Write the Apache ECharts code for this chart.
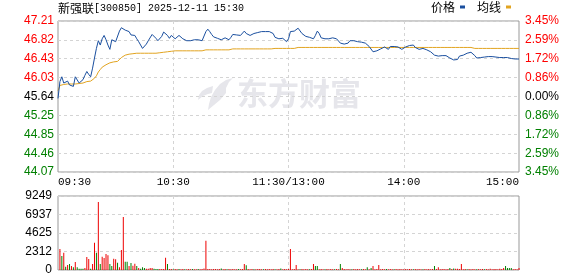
<!DOCTYPE html>
<html><head><meta charset="utf-8">
<script src="https://cdn.jsdelivr.net/npm/echarts@6/dist/echarts.min.js"></script>
<style>html,body{margin:0;padding:0;background:#fff}#c{width:578px;height:276px}</style>
</head><body><div id="c"></div>
<script>
const stockName = '新强联';
const stockInfo = '[300850] 2025-12-11 15:30';
const prevClose = 45.64;
const priceTicks = [44.07, 44.46, 44.85, 45.25, 45.64, 46.03, 46.43, 46.82, 47.21];
const pctLabels = ['3.45%','2.59%','1.72%','0.86%','0.00%','0.86%','1.72%','2.59%','3.45%'];
const volTicks = [0, 2312, 4625, 6937, 9249];
const timeLabels = ['09:30','10:30','11:30/13:00','14:00','15:00'];

const price = [
45.60,45.95,46.05,45.92,45.95,45.96,45.88,45.88,45.85,46.05,
46.02,45.92,45.92,45.99,46.08,46.16,46.10,46.05,46.23,46.44,
46.64,46.80,46.71,46.84,46.91,46.82,46.71,46.62,46.82,46.84,
46.78,46.82,47.00,47.07,47.11,47.02,47.04,46.99,46.92,46.95,
46.91,46.84,46.78,46.71,46.64,46.68,46.73,46.80,46.84,46.93,
46.89,46.85,46.80,46.82,46.89,46.98,46.95,46.91,46.85,46.91,
46.90,46.84,46.86,46.91,46.88,46.84,46.82,46.80,46.80,46.80,
46.80,46.82,46.81,46.82,46.84,46.80,46.84,46.99,47.04,46.99,
46.93,46.88,46.85,46.85,46.84,46.82,46.82,46.86,46.86,46.82,
46.87,46.93,46.97,46.92,46.91,46.91,46.94,47.00,46.95,46.92,
46.91,46.95,46.95,46.97,46.97,46.95,46.99,46.96,46.99,46.95,
46.99,47.00,46.95,46.87,46.84,46.84,46.82,46.85,46.81,46.78,
46.84,46.99,47.01,47.00,47.02,47.06,47.02,46.95,46.92,46.89,
46.89,46.87,46.88,46.84,46.91,47.00,46.95,46.86,46.85,46.84,
46.83,46.84,46.84,46.86,46.85,46.84,46.84,46.75,46.73,46.73,
46.73,46.75,46.80,46.81,46.80,46.80,46.78,46.78,46.77,46.75,
46.75,46.71,46.68,46.64,46.57,46.57,46.59,46.60,46.63,46.64,
46.67,46.64,46.62,46.68,46.69,46.68,46.66,46.67,46.66,46.62,
46.62,46.67,46.69,46.70,46.68,46.71,46.66,46.64,46.62,46.63,
46.64,46.63,46.61,46.59,46.57,46.56,46.50,46.52,46.48,46.49,
46.49,46.49,46.49,46.48,46.44,46.42,46.40,46.40,46.41,46.48,
46.45,46.50,46.52,46.54,46.55,46.56,46.55,46.49,46.44,46.45,
46.45,46.45,46.46,46.46,46.47,46.47,46.47,46.47,46.46,46.45,
46.45,46.45,46.45,46.45,46.45,46.44,46.43,46.42,46.42,46.42,46.42
];

const avgPrice = [
45.76,45.87,45.88,45.89,45.90,45.90,45.90,45.90,45.90,45.90,
45.90,45.91,45.92,45.92,45.93,45.95,45.96,45.96,45.97,46.02,
46.07,46.15,46.20,46.25,46.29,46.30,46.32,46.34,46.35,46.36,
46.36,46.37,46.40,46.45,46.49,46.50,46.51,46.52,46.52,46.53,
46.54,46.54,46.54,46.54,46.54,46.54,46.54,46.54,46.54,46.54,
46.54,46.54,46.55,46.55,46.56,46.56,46.57,46.57,46.57,46.58,
46.59,46.59,46.59,46.59,46.59,46.59,46.59,46.59,46.59,46.59,
46.59,46.59,46.59,46.59,46.59,46.59,46.59,46.61,46.61,46.61,
46.61,46.61,46.61,46.61,46.61,46.61,46.61,46.61,46.61,46.61,
46.61,46.63,46.63,46.63,46.63,46.63,46.63,46.63,46.63,46.63,
46.63,46.63,46.63,46.63,46.63,46.63,46.63,46.63,46.63,46.63,
46.63,46.63,46.63,46.64,46.64,46.64,46.64,46.64,46.64,46.64,
46.64,46.64,46.64,46.64,46.64,46.66,46.66,46.66,46.66,46.66,
46.66,46.66,46.66,46.66,46.66,46.66,46.66,46.66,46.66,46.66,
46.66,46.66,46.66,46.66,46.66,46.66,46.66,46.66,46.66,46.66,
46.66,46.66,46.66,46.66,46.66,46.66,46.66,46.66,46.66,46.66,
46.66,46.66,46.66,46.66,46.66,46.66,46.66,46.66,46.66,46.66,
46.66,46.66,46.66,46.66,46.66,46.66,46.66,46.66,46.66,46.66,
46.66,46.66,46.66,46.66,46.66,46.66,46.66,46.66,46.66,46.66,
46.66,46.66,46.66,46.66,46.66,46.66,46.66,46.66,46.66,46.66,
46.66,46.66,46.66,46.66,46.66,46.66,46.66,46.66,46.66,46.66,
46.66,46.66,46.66,46.66,46.66,46.66,46.66,46.64,46.64,46.64,
46.64,46.64,46.64,46.64,46.64,46.64,46.64,46.64,46.64,46.64,
46.64,46.64,46.64,46.64,46.64,46.64,46.64,46.64,46.64,46.64,46.64
];

const volume = [
0,2620,1750,2170,420,620,750,500,330,1000,
330,170,170,170,250,1620,1370,170,750,3420,
2170,8500,750,1670,1500,2000,1830,750,500,1420,
1330,920,330,2500,6620,1040,1040,500,870,540,
790,500,250,170,330,250,170,170,250,250,
170,130,130,130,130,130,1540,750,120,110,
100,120,90,110,100,130,100,90,110,100,
120,100,90,110,100,120,200,3670,120,110,
100,130,110,100,120,200,100,110,90,120,
100,110,100,90,120,100,110,750,580,120,
100,110,90,100,120,110,100,90,110,100,
120,100,110,90,100,120,200,100,110,100,
120,2620,100,110,620,100,90,110,100,120,
100,90,110,750,500,500,100,110,100,90,
120,100,110,100,90,110,100,750,250,110,
100,120,90,100,110,100,120,100,90,110,
100,330,100,250,500,100,120,620,100,110,
90,120,100,110,100,90,120,100,110,100,
90,110,100,120,100,90,110,100,120,100,
90,110,100,120,100,110,500,120,330,100,
110,120,100,110,250,110,200,150,150,120,
750,100,110,90,120,100,110,100,90,120,
100,110,100,120,100,150,100,110,120,100,
150,120,250,500,250,250,250,100,110,90,250
];

const downMinutes = [2,4,6,8,10,11,12,13,17,20,22,27,28,31,35,36,38,41,43,44,45,50,51,52,57,60,63,66,70,73,85,88,94,98,102,107,113,116,126,131,134,135,139,144,147,153,158,161,163,171,175,185,190,196,204,206,213,218,222,233,234,235,236];

// minute categories 09:30-11:30, 13:01-15:00
const times = [];
for (let t = 9*60+30; t <= 11*60+30; t++) times.push(String(Math.floor(t/60)).padStart(2,'0') + ':' + String(t%60).padStart(2,'0'));
for (let t = 13*60+1; t <= 15*60; t++) times.push(String(Math.floor(t/60)).padStart(2,'0') + ':' + String(t%60).padStart(2,'0'));

const RED = '#ff0000', GREEN = '#008000', BLUE = '#1a4f9f', GOLD = '#e2a420';
function nearestIdx(arr, v) { let b = 0; for (let i = 1; i < arr.length; i++) if (Math.abs(arr[i]-v) < Math.abs(arr[b]-v)) b = i; return b; }
function tickColor(v) { return v > prevClose + 0.001 ? RED : (v < prevClose - 0.001 ? GREEN : '#000'); }

const downSet = new Set(downMinutes);
const volData = volume.map((v, i) => ({ value: v, itemStyle: { color: downSet.has(i) ? GREEN : '#ee0000' } }));

const dash = { color: '#d4d4d4', type: [3, 3], width: 1 };
const wm = '#e6e6eb';

const chart = echarts.init(document.getElementById('c'), null, { renderer: 'canvas' });
chart.setOption({
  animation: false,
  backgroundColor: '#fff',
  title: { text: '{c|' + stockName + '}{a|' + stockInfo + '}', left: 58, top: 2, padding: 0,
    textStyle: { fontWeight: 'normal', color: '#000',
      rich: { c: { fontSize: 12, fontFamily: "'Noto Sans CJK SC'", color: '#000' },
              a: { fontSize: 10, fontFamily: "'Liberation Mono',monospace", color: '#000' } } } },
  legend: { data: ['价格', '均线'], right: 67, top: 1, padding: 0, itemWidth: 5, itemHeight: 3, icon: 'rect', align: 'right', itemGap: 12,
    textStyle: { fontSize: 12, color: '#000', fontFamily: "'Noto Sans CJK SC'" } },
  graphic: [
    { type: 'polygon', z: -10, shape: { points: [[233,78],[226,80],[220,84],[215,90],[211,97],[209,104],[208,110],[214,105],[220,100],[226,93],[226,88],[229,82]] }, style: { fill: wm } },
    { type: 'polygon', z: -10, shape: { points: [[213,86],[207,88],[202,91],[199,95],[198,100],[203,96],[208,94],[212,93]] }, style: { fill: wm } },
    { type: 'text', z: -10, left: 237, top: 78, style: { text: '东方财富', font: 'bold 31px "Noto Sans CJK SC"', fill: wm } }
  ],
  grid: [
    { left: 58, top: 21, width: 461, height: 151, show: true, borderColor: '#999', borderWidth: 1, backgroundColor: 'transparent' },
    { left: 58, top: 196, width: 461, height: 74, show: true, borderColor: '#999', borderWidth: 1, backgroundColor: 'transparent' }
  ],
  xAxis: [
    { gridIndex: 0, type: 'category', data: times, boundaryGap: false,
      axisLine: { show: false }, axisTick: { show: false },
      axisLabel: { interval: (i) => i % 60 === 0, formatter: (v) => timeLabels[times.indexOf(v) / 60],
        margin: 5, fontSize: 11, color: '#000', fontFamily: "'Liberation Mono',monospace", alignMinLabel: 'left', alignMaxLabel: 'right' },
      splitLine: { show: true, interval: (i) => i % 60 === 0 && i > 0 && i < 240, lineStyle: dash } },
    { gridIndex: 1, type: 'category', data: times, boundaryGap: false,
      axisLine: { show: false }, axisTick: { show: false }, axisLabel: { show: false },
      splitLine: { show: true, interval: (i) => i % 60 === 0 && i > 0 && i < 240, lineStyle: dash } }
  ],
  yAxis: [
    { gridIndex: 0, type: 'value', position: 'left', min: 44.07, max: 47.21,
      axisLine: { show: false }, axisTick: { show: false, customValues: priceTicks },
      axisLabel: { customValues: priceTicks, formatter: (v) => priceTicks[nearestIdx(priceTicks, v)].toFixed(2),
        color: (v) => tickColor(priceTicks[nearestIdx(priceTicks, v)]), margin: 4, fontSize: 12, fontFamily: "'Liberation Sans',Arial" },
      splitLine: { show: true, lineStyle: dash } },
    { gridIndex: 0, type: 'value', position: 'right', min: 44.07, max: 47.21,
      axisLine: { show: false }, axisTick: { show: false, customValues: priceTicks },
      axisLabel: { customValues: priceTicks, formatter: (v) => pctLabels[nearestIdx(priceTicks, v)],
        color: (v) => tickColor(priceTicks[nearestIdx(priceTicks, v)]), margin: 6, fontSize: 12, fontFamily: "'Liberation Sans',Arial" },
      splitLine: { show: false } },
    { gridIndex: 1, type: 'value', position: 'left', min: 0, max: 9249,
      axisLine: { show: false }, axisTick: { show: false, customValues: volTicks },
      axisLabel: { customValues: volTicks, formatter: (v) => String(volTicks[nearestIdx(volTicks, v)]),
        color: '#000', margin: 6, fontSize: 12, fontFamily: "'Liberation Sans',Arial" },
      splitLine: { show: true, lineStyle: dash } }
  ],
  series: [
    { name: '价格', type: 'line', xAxisIndex: 0, yAxisIndex: 0, data: price, showSymbol: false, symbol: 'none',
      lineStyle: { width: 1, color: BLUE }, itemStyle: { color: BLUE }, z: 4 },
    { name: '均线', type: 'line', xAxisIndex: 0, yAxisIndex: 0, data: avgPrice, showSymbol: false, symbol: 'none',
      lineStyle: { width: 1, color: GOLD }, itemStyle: { color: GOLD }, z: 3 },
    { name: '成交量', type: 'bar', xAxisIndex: 1, yAxisIndex: 2, data: volData, barWidth: 1 }
  ]
});
</script></body></html>
